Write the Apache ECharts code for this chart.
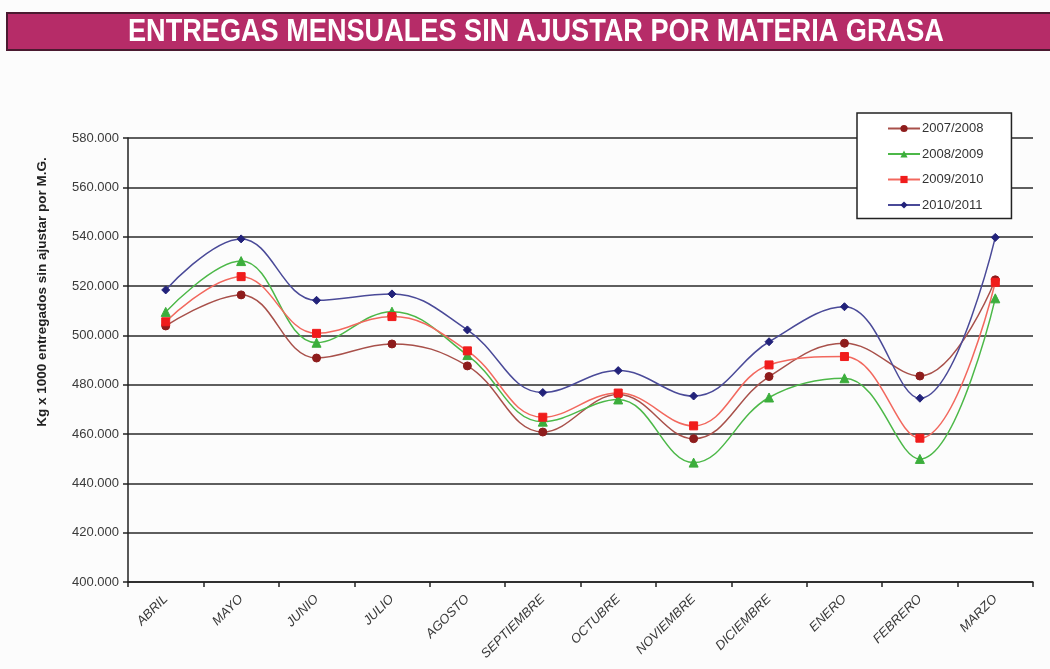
<!DOCTYPE html>
<html>
<head>
<meta charset="utf-8">
<style>
  html, body { margin: 0; padding: 0; background: #fcfcfc; }
  #chart { width: 1050px; height: 669px; }
</style>
<script src="https://cdn.jsdelivr.net/npm/echarts@6/dist/echarts.min.js"></script>
</head>
<body>
<div id="chart"></div>
<script>
// meses de la campaña (abril - marzo)
const months = ['ABRIL', 'MAYO', 'JUNIO', 'JULIO', 'AGOSTO', 'SEPTIEMBRE', 'OCTUBRE', 'NOVIEMBRE', 'DICIEMBRE', 'ENERO', 'FEBRERO', 'MARZO']

// Kg x 1000 (en miles)
const s0708 = [503.8, 516.4, 490.8, 496.5, 487.6, 460.8, 476.0, 458.1, 483.3, 496.8, 483.5, 522.5]
const s0809 = [509.5, 530.1, 497.0, 509.6, 492.0, 465.0, 474.0, 448.4, 474.8, 482.6, 449.9, 515.0]
const s0910 = [505.5, 523.8, 500.8, 507.6, 493.7, 466.8, 476.6, 463.3, 488.0, 491.4, 458.3, 521.5]
const s1011 = [518.4, 539.1, 514.2, 516.8, 502.2, 476.8, 485.7, 475.4, 497.4, 511.6, 474.5, 539.7]

const seriesDefs = [
  { name: '2007/2008', data: s0708, line: '#a8504a', mark: '#8e1c1c', symbol: 'circle', size: 8 },
  { name: '2008/2009', data: s0809, line: '#4cb848', mark: '#3cae3c', symbol: 'triangle', size: 9 },
  { name: '2009/2010', data: s0910, line: '#f2685e', mark: '#f01c1c', symbol: 'rect', size: 8 },
  { name: '2010/2011', data: s1011, line: '#4a4a98', mark: '#22227a', symbol: 'diamond', size: 8 },
]

const chart = echarts.init(document.getElementById('chart'))
const labelColor = '#3a3a3a'
const baseFont = '"Liberation Sans", Arial, sans-serif'

chart.setOption({
  animation: false,
  backgroundColor: '#fcfcfc',
  graphic: [
    // banda del título
    {
      type: 'rect',
      shape: { x: 7, y: 13, width: 1050, height: 37 },
      style: { fill: '#b62c68', stroke: '#4a1a30', lineWidth: 2 },
    },
    {
      type: 'text',
      x: 128,
      y: 32,
      scaleX: 0.875,
      style: {
        text: 'ENTREGAS MENSUALES SIN AJUSTAR POR MATERIA GRASA',
        fill: '#ffffff',
        font: 'bold 31px "Liberation Sans Narrow", "Liberation Sans", sans-serif',
        verticalAlign: 'middle',
      },
    },
    // título eje Y
    {
      type: 'text',
      x: 42,
      y: 292,
      rotation: Math.PI / 2,
      style: {
        text: 'Kg x 1000 entregados sin ajustar por M.G.',
        fill: '#222',
        font: 'bold 13.5px ' + baseFont,
        align: 'center',
        verticalAlign: 'middle',
      },
    },
  ],
  legend: {
    orient: 'vertical',
    left: 857,
    top: 113,
    width: 158,
    padding: [9, 28, 7, 30],
    itemGap: 12.5,
    itemWidth: 32,
    itemHeight: 9,
    backgroundColor: '#ffffff',
    borderColor: '#222',
    borderWidth: 1.5,
    borderRadius: 0,
    textStyle: { fontSize: 13, color: '#333', fontFamily: baseFont, padding: [0, 0, 0, -3] },
    data: seriesDefs.map((s) => s.name),
  },
  grid: { left: 128, right: 17, top: 138, bottom: 87, containLabel: false },
  xAxis: {
    type: 'category',
    data: months,
    boundaryGap: true,
    axisLine: { lineStyle: { color: '#222', width: 1.5 } },
    axisTick: { show: true, alignWithLabel: false, length: 5, lineStyle: { color: '#222', width: 1.5 } },
    axisLabel: {
      rotate: 45,
      interval: 0,
      fontSize: 13,
      fontStyle: 'italic',
      color: labelColor,
      margin: 15,
      fontFamily: baseFont,
    },
  },
  yAxis: {
    type: 'value',
    min: 400,
    max: 580,
    interval: 20,
    axisLine: { show: true, lineStyle: { color: '#222', width: 1.5 } },
    axisTick: { show: true, length: 5, lineStyle: { color: '#222', width: 1.5 } },
    splitLine: { show: true, lineStyle: { color: '#2a2a2a', width: 1.5 } },
    axisLabel: {
      fontSize: 13,
      color: labelColor,
      margin: 9,
      fontFamily: baseFont,
      formatter: (v) => v.toFixed(3),
    },
  },
  series: seriesDefs.map((s) => ({
    name: s.name,
    type: 'line',
    data: s.data,
    smooth: 0.4,
    symbol: s.symbol,
    symbolSize: s.size,
    showAllSymbol: true,
    lineStyle: { color: s.line, width: 1.5 },
    itemStyle: { color: s.mark, borderColor: s.mark },
    emphasis: { disabled: true },
  })),
})
</script>
</body>
</html>
